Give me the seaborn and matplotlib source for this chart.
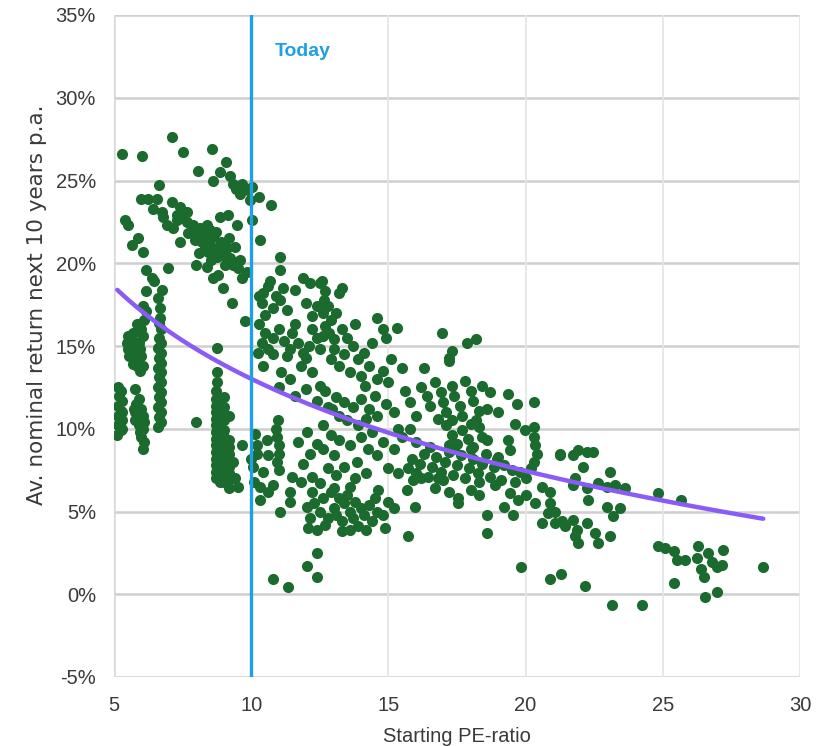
import numpy as np
import pandas as pd
import matplotlib
matplotlib.use("Agg")
import matplotlib.pyplot as plt
import seaborn as sns

# ---- data: (starting PE, avg nominal return next 10y in %) ----
strip_52 = [(5.12,9.6),(5.25,9.9),(5.15,10.2),(5.28,10.5),(5.15,10.8),(5.25,11.1),(5.15,11.4),(5.28,11.7),
            (5.18,12.0),(5.25,12.3),(5.15,12.5),(5.3,10.0),(5.3,11.0)]
mid_55 = [(5.5,15.6),(5.48,15.2),(5.52,14.8),(5.55,14.4),(5.6,15.0),(5.65,15.4),(5.7,15.8),(5.75,14.6),
          (5.8,14.2),(5.85,13.8),(5.9,15.2),(5.95,14.8),(5.95,13.5),(6.0,14.4),(6.0,16.0),(6.05,15.6),
          (5.85,16.3),(5.7,13.9),(6.05,13.8)]
low_58 = [(5.77,12.4),(5.8,11.5),(5.78,11.0),(5.85,10.6),(5.9,10.2),(5.95,9.8),(6.0,9.5),(5.9,11.8),
          (6.0,11.2),(6.05,10.8),(6.1,10.4),(6.05,10.0),(6.04,8.8),(5.75,10.5),(5.72,11.2),(6.1,9.2)]
up_61 = [(6.1,16.6),(6.15,17.1),(6.07,17.4),(6.17,18.3),(6.17,19.6),(6.37,19.1),(6.45,18.9),(6.07,20.7),
         (6.61,17.9),(6.74,18.4),(6.68,17.3),(6.98,19.7)]
strip_665 = [(6.62,10.1),(6.7,10.4),(6.65,10.7),(6.72,11.0),(6.62,11.3),(6.7,11.6),(6.65,11.9),(6.72,12.2),
             (6.62,12.5),(6.7,12.8),(6.65,13.1),(6.72,13.4),(6.62,13.7),(6.7,14.0),(6.65,14.3),(6.72,14.6),
             (6.62,14.9),(6.7,15.2),(6.65,15.5),(6.7,16.0),(6.65,16.4),(6.68,16.7)]
top_left = [(5.28,26.6),(6.03,26.5),(7.12,27.6),(7.5,26.7),(8.58,26.9),(8.05,25.6),(9.08,26.1),
            (5.4,22.6),(5.52,22.3),(5.65,21.1),(5.89,21.5),(6.0,23.9),(6.25,23.9),(6.56,23.9),
            (6.43,23.3),(6.65,24.7),(6.74,23.1),(6.8,22.8)]
diag_7 = [(7.12,23.7),(7.4,23.4),(7.65,23.1),(6.92,22.3),(7.16,22.1),(7.28,22.6),(7.4,21.3),(7.65,22.5),
          (7.89,22.3),(7.83,21.9),(7.95,21.4),(7.99,19.9),(7.5,23.0),(7.3,22.9),(7.7,21.8)]
diag_8 = [(8.13,22.1),(8.38,22.3),(8.07,21.7),(8.32,21.5),(8.5,21.1),(8.74,20.9),(8.2,21.3),(8.86,22.8),
          (8.44,20.7),(8.74,20.4),(8.98,20.5),(8.38,19.8),(8.8,19.3),(8.62,19.1),(8.98,18.5),
          (8.86,25.5),(8.62,25.0),(8.2,22.0),(8.5,22.0),(8.6,21.6),(8.3,20.9),(8.1,20.6),(8.55,20.2),
          (8.9,21.3),(8.7,21.9)]
diag_9 = [(9.23,25.3),(9.33,24.8),(9.65,24.8),(9.59,24.2),(9.17,22.9),(9.47,22.3),(9.23,20.3),(9.41,21.0),
          (9.05,19.9),(9.35,19.9),(9.53,19.7),(9.84,19.5),(9.65,19.1),(9.29,17.6),(9.77,16.5),(9.1,20.9),
          (9.6,20.2),(9.45,24.5),(9.9,24.4),(9.2,21.5),(10.02,24.6),(9.96,23.8),(10.3,24.0),(10.72,23.5),
          (10.02,22.6),(10.32,21.4)]
strip_89 = [(8.7,12.3),(8.7,11.8),(8.7,11.4),(8.7,11.0),(8.7,10.6),(8.7,10.2),(8.7,9.8),(8.7,9.4),
            (8.7,9.0),(8.7,8.6),(8.7,8.2),(8.7,7.8),(8.7,7.4),(8.7,7.0),
            (8.85,11.6),(8.85,11.2),(8.85,10.8),(8.85,10.4),(8.85,10.0),(8.85,9.6),(8.85,9.2),(8.85,8.8),
            (8.85,8.4),(8.85,8.0),(8.85,7.6),(8.85,7.2),(8.85,6.8),
            (9.0,11.9),(9.0,11.3),(9.0,10.5),(9.0,9.9),(9.0,9.5),(9.0,9.1),(9.0,8.7),(9.0,8.3),(9.0,7.9),
            (9.0,7.5),(9.0,7.1),(9.0,6.8),
            (9.2,10.8),(9.2,9.3),(9.2,8.9),(9.2,8.5),(9.2,8.1),(9.2,7.7),(9.2,7.3),(9.2,6.9),(9.2,6.4),
            (8.74,14.9),(8.74,13.4),(8.74,12.8),(9.65,9.0),(9.53,6.5),(8.0,10.4),(9.4,7.0),(9.35,8.0)]
up_105 = [(11.05,20.4),(11.05,19.6),(10.69,18.9),(10.44,18.2),(10.38,17.6),(10.8,17.3),(11.05,17.8),
          (11.29,17.2),(11.17,18.5),(10.6,18.6),(10.3,18.0),(10.9,18.0),(10.5,16.9)]
mid_11 = [(10.3,16.3),(10.5,15.8),(10.4,15.2),(10.6,14.8),(10.8,15.5),(11.0,16.0),(11.2,15.3),(11.4,14.8),
          (11.5,15.8),(11.7,15.2),(11.9,14.6),(12.1,15.0),(12.2,16.0),(12.4,15.5),(11.3,14.4),(10.8,14.5),
          (12.0,14.3),(11.6,16.3),(10.25,14.6),(12.5,14.8)]
col_127 = [(12.57,18.9),(12.7,18.3),(12.65,17.8),(12.8,17.4),(12.6,17.0),(12.9,16.6),(12.7,16.2),
           (12.85,15.8),(13.0,15.4),(12.6,15.6),(13.1,17.0),(13.2,18.2),(13.3,18.5),(12.4,17.4),
           (12.2,16.8),(12.0,17.6),(11.9,19.1),(12.14,18.8),(12.5,18.8),(11.6,18.4),(13.0,14.8),(12.9,14.2)]
band_14 = [(13.3,16.0),(13.5,15.5),(13.7,15.0),(13.4,14.5),(13.9,14.2),(14.1,14.6),(14.3,13.8),
           (14.57,16.7),(14.8,16.0),(14.9,15.5),(15.3,16.1),(13.6,13.4),(14.0,13.2),(14.15,12.6),
           (14.6,13.0),(14.8,13.5),(15.0,12.8),(13.2,13.8),(13.8,16.3),(14.4,15.2),(15.1,14.2),
           (15.5,13.7),(16.3,13.7),(17.2,14.1),(16.96,15.8),(17.3,14.7),(17.2,14.3),(17.85,15.2),(18.2,15.4)]
band_12 = [(11.1,13.4),(11.4,13.0),(11.8,13.8),(12.2,13.4),(12.5,12.6),(12.7,12.3),(12.4,11.7),
           (12.8,11.3),(12.96,11.2),(10.42,13.8),(11.0,12.5),(11.6,12.0),(12.0,12.4)]
band_13 = [(13.1,11.9),(13.4,11.6),(13.7,11.3),(14.0,11.8),(14.3,11.2),(14.6,10.8),(14.9,11.5),
           (15.2,11.0),(13.5,10.5),(13.9,10.2),(14.5,12.0),(15.36,10.0),(13.2,10.8),(14.2,10.6)]
low_105 = [(10.14,9.7),(10.99,10.5),(10.9,10.0),(10.95,9.5),(11.0,9.0),(11.0,8.5),(10.95,8.0),(11.0,7.5),
           (10.56,9.3),(10.62,8.4),(10.2,8.5),(10.08,7.7),(10.44,7.4),(10.32,6.5),(10.32,5.7),(10.8,6.6),
           (11.05,5.0),(11.47,7.1),(11.41,6.2),(11.41,5.6),(10.1,6.8),(10.6,6.2),(10.2,9.0),(10.0,8.2)]
low_12 = [(11.72,9.2),(12.02,9.8),(11.9,7.9),(12.2,7.1),(12.63,10.2),(12.81,7.6),(12.14,8.5),(12.38,9.1),
          (12.6,8.8),(12.9,9.6),(13.0,8.4),(12.5,6.7),(12.9,6.2),(11.8,6.8),(13.1,7.2)]
low_13 = [(12.02,5.3),(12.08,4.0),(12.39,3.9),(12.14,4.6),(12.63,5.8),(12.81,4.6),(12.3,5.5),(12.5,5.0),
          (12.7,4.2),(13.0,5.2),(13.1,4.8),(13.2,5.8),(13.3,4.4),(13.4,5.5),(13.5,6.0),(13.6,5.0),
          (13.7,4.6),(13.8,5.6),(13.9,4.1),(14.0,5.2),(14.1,4.8),(14.2,3.9),(14.3,5.4),(14.4,4.4),
          (14.5,5.8),(13.0,6.4),(13.6,6.5),(12.2,6.2),(14.63,6.3),(14.87,4.0),(14.6,5.0),(15.0,5.6),
          (15.2,5.2),(15.67,6.3),(15.97,5.3),(15.7,3.5),(13.3,3.8),(13.6,3.9),(14.8,4.8)]
outliers_low = [(12.39,2.5),(12.02,1.7),(12.39,1.05),(10.8,0.95),(11.35,0.45)]
curve_14 = [(13.4,7.7),(13.85,8.0),(14.27,8.8),(14.57,8.4),(15.0,7.6),(15.36,7.3),(13.2,9.3),(13.6,9.0),
            (14.0,9.5),(14.4,9.8),(14.8,9.2),(15.2,8.8),(15.5,9.5),(15.8,10.0),(16.0,9.2),(13.8,7.0),(14.2,7.3)]
band_17 = [(15.7,7.6),(15.85,8.2),(16.0,7.3),(16.15,7.9),(16.3,8.5),(16.45,7.1),(16.6,7.7),(16.75,8.3),
           (16.9,7.4),(17.05,8.0),(17.2,8.6),(17.35,7.2),(17.5,7.8),(17.65,8.4),(17.8,7.0),(17.95,7.6),
           (18.1,8.2),(18.25,7.3),(18.4,7.9),(18.55,8.5),(18.7,7.1),(18.85,7.7),(19.0,8.3),(16.2,7.0),
           (16.8,7.0),(17.4,8.8),(18.0,8.8),(17.0,6.9),(18.3,6.8),(16.5,8.9),(15.9,6.9),(18.94,8.2)]
below_17 = [(17.55,5.8),(17.55,5.5),(19.43,6.1),(19.73,5.7),(19.2,5.3),(19.55,4.8),(18.58,4.8),(18.58,3.7),
            (16.7,6.4),(17.2,6.2),(18.0,6.3),(18.3,6.0),(18.9,6.6),(19.1,6.9)]
up_17 = [(16.2,12.5),(16.4,12.0),(16.5,11.4),(16.7,12.8),(16.9,12.2),(17.0,11.6),(17.1,11.0),(17.3,12.6),
         (17.4,12.0),(17.6,11.4),(17.7,10.8),(17.8,12.9),(18.0,12.3),(18.1,11.7),(18.3,11.1),(18.4,12.6),
         (16.8,10.6),(17.3,10.5),(15.8,11.6),(15.6,12.3),(16.0,10.8),(18.7,12.2),(19.37,12.1),(19.67,11.5),
         (20.3,11.6),(18.2,10.5),(18.6,11.2),(19.0,11.0)]
mid_17 = [(17.1,10.2),(17.3,9.6),(17.5,9.1),(17.7,9.9),(17.9,9.4),(18.1,8.9),(18.3,10.1),(18.4,9.5),
          (17.2,9.0),(18.58,9.3),(18.0,10.3)]
zone_20 = [(19.6,10.3),(19.98,9.9),(20.3,10.1),(20.3,9.5),(20.35,9.0),(20.4,8.5),(20.3,8.0),(20.2,7.6),
           (21.25,8.5),(19.37,9.3),(19.43,8.7),(19.8,7.4),(20.0,7.0),(19.6,6.8),(20.35,5.5),(20.9,5.5),
           (20.83,4.9),(20.59,4.3),(21.07,4.3),(21.44,4.1),(19.85,1.65),(20.9,0.95),(21.3,1.2),
           (20.6,6.5),(20.9,6.2),(20.0,6.0),(19.2,7.8),(19.5,7.5)]
zone_22 = [(21.25,8.4),(21.74,8.4),(21.92,8.7),(22.23,8.6),(22.47,8.6),(22.1,7.7),(23.07,7.4),(21.8,7.0),
           (21.74,6.6),(22.23,6.4),(22.65,6.7),(22.95,6.5),(23.26,6.6),(23.62,6.4),(22.29,5.7),(22.95,5.3),
           (23.2,4.7),(23.44,5.2),(21.07,5.0),(21.31,4.4),(21.74,4.5),(21.86,3.9),(22.23,4.3),(22.53,3.7),
           (22.65,3.1),(21.8,3.5),(21.92,3.1),(23.07,3.5),(22.17,0.5),(23.14,-0.65),(24.25,-0.65)]
zone_26 = [(24.84,6.1),(25.66,5.7),(24.84,2.9),(25.08,2.8),(25.39,2.6),(25.5,2.05),(25.81,2.05),(26.3,2.9),
           (26.23,2.2),(26.41,1.55),(26.66,2.5),(26.78,1.95),(26.96,1.65),(27.14,1.75),(27.2,2.65),
           (26.51,1.05),(25.39,0.7),(26.54,-0.15),(26.98,0.15),(28.66,1.65)]

clusters = [strip_52, mid_55, low_58, up_61, strip_665, top_left, diag_7, diag_8, diag_9, strip_89,
            up_105, mid_11, col_127, band_14, band_12, band_13, low_105, low_12, low_13, outliers_low,
            curve_14, band_17, below_17, up_17, mid_17, zone_20, zone_22, zone_26]
pts = [p for c in clusters for p in c]
df = pd.DataFrame(pts, columns=["pe", "ret"])

x_ticks = [5, 10, 15, 20, 25, 30]
y_ticks = [-5, 0, 5, 10, 15, 20, 25, 30, 35]
today_pe = 10

# ---- style ----
sns.set_theme(style="white")
plt.rcParams["font.family"] = ["Liberation Sans", "DejaVu Sans"]

fig = plt.figure(figsize=(8.23, 7.46), dpi=100)
ax = fig.add_axes([114/823, 1-677/746, (800-114)/823, (677-15)/746])

sns.scatterplot(data=df, x="pe", y="ret", ax=ax, color="#1a6b2d", s=64, linewidth=0, zorder=3)
sns.regplot(data=df, x="pe", y="ret", ax=ax, logx=True, scatter=False, ci=None,
            line_kws=dict(color="#8a5cf5", lw=3.2, zorder=4, solid_capstyle="round"))
ax.axvline(today_pe, color="#1ea1e4", lw=2.4, zorder=5)
ax.text(10.85, 32.8, "Today", color="#1ea1e4", fontsize=14, fontweight="bold", va="center", ha="left")

ax.set_xlim(5, 30)
ax.set_ylim(-5, 35)
ax.set_xticks(x_ticks)
ax.set_yticks(y_ticks)
ax.set_yticklabels([f"{v}%" for v in y_ticks])
ax.tick_params(axis="both", length=0, labelsize=14.5, colors="#3a3a3a")
ax.tick_params(axis="y", pad=13)
ax.tick_params(axis="x", pad=14)

for v in y_ticks:
    ax.axhline(v, color="#cfcfcf", lw=1.8, zorder=1)
for v in x_ticks[1:]:
    ax.axvline(v, color="#e6e6e6", lw=1.3, zorder=1)
for side in ["top", "right", "left", "bottom"]:
    ax.spines[side].set_visible(False)
ax.axvline(5, color="#d8d8d8", lw=1.8, zorder=1)

ax.set_xlabel("Starting PE-ratio", fontsize=14.5, color="#3a3a3a")
ax.xaxis.set_label_coords(0.5, -0.076)
ax.set_ylabel("Av. nominal return next 10 years p.a.", fontsize=15.5, color="#3a3a3a",
              family=["DejaVu Sans"])
ax.yaxis.set_label_coords(-0.098, 0.562)

fig.savefig("out.png", dpi=100, facecolor="white")
